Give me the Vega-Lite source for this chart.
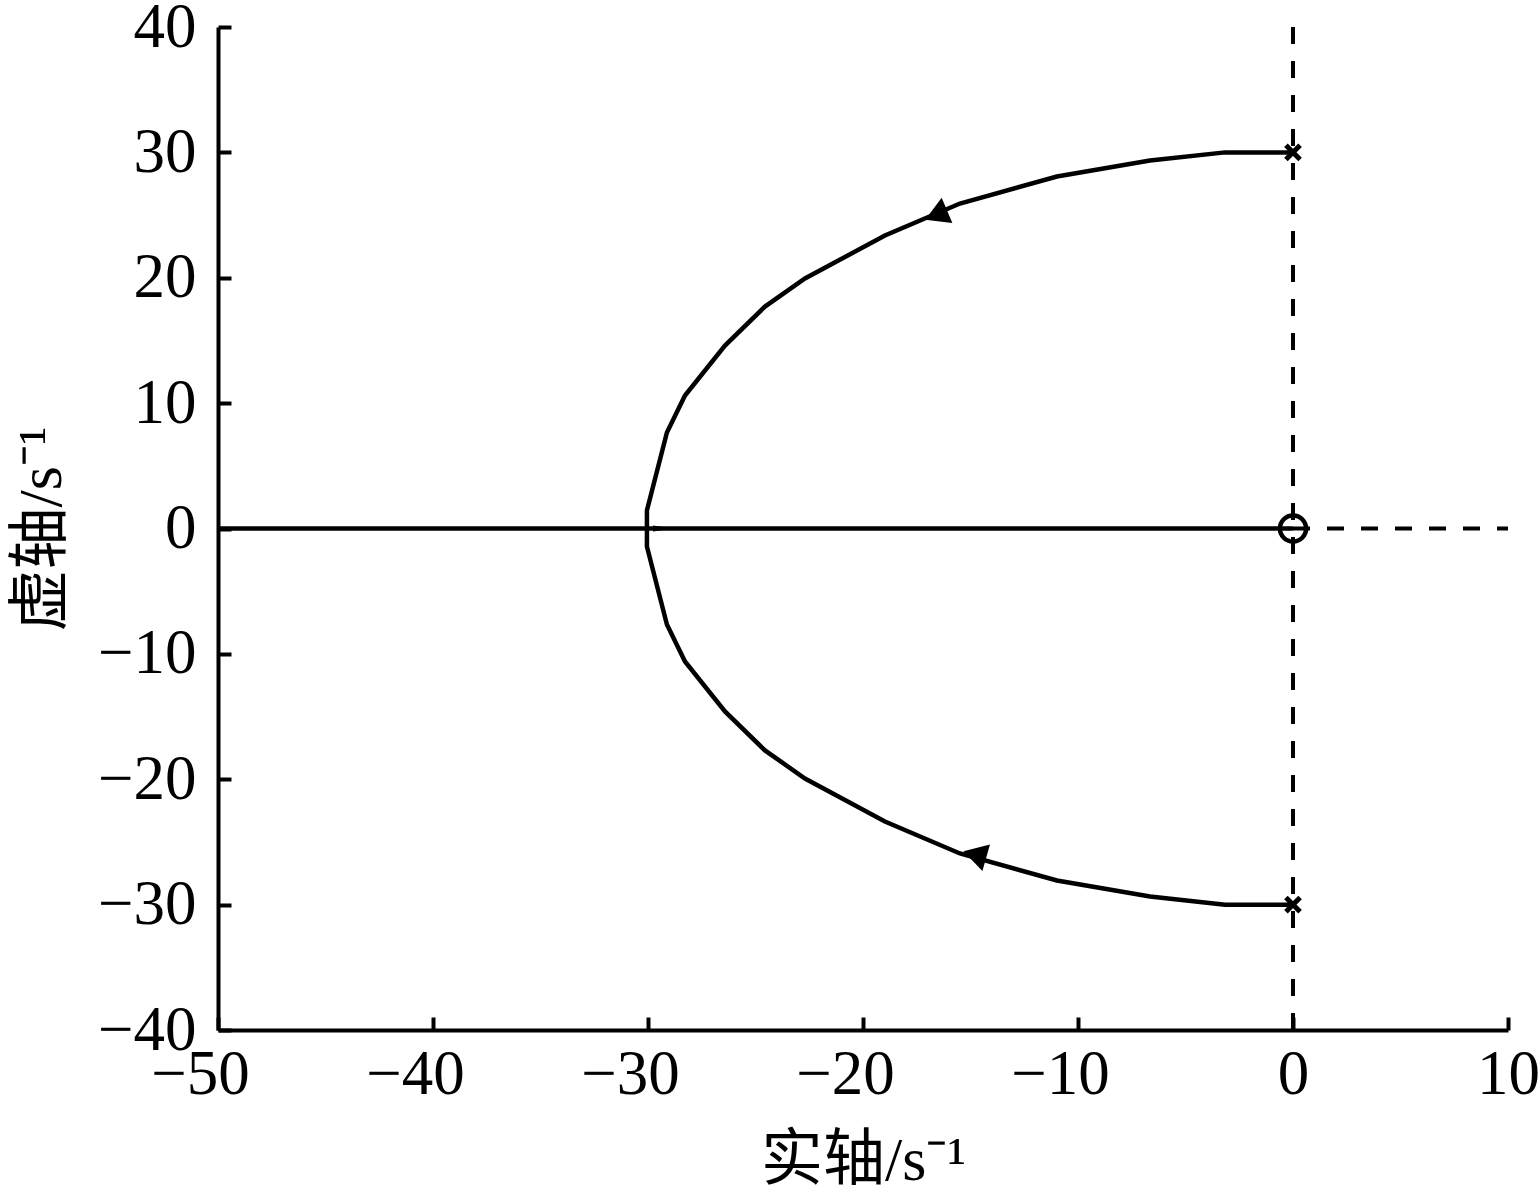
{
  "$schema": "https://vega.github.io/schema/vega-lite/v6.json",
  "width": 1290,
  "height": 1003,
  "autosize": {"type": "none"},
  "padding": {"left": 218, "top": 27, "right": 31, "bottom": 162},
  "background": "white",
  "config": {
    "view": {"stroke": null},
    "axis": {
      "domainColor": "black",
      "domainWidth": 4,
      "tickColor": "black",
      "tickWidth": 4,
      "tickSize": -13,
      "grid": false,
      "labelFont": "Liberation Serif",
      "labelFontSize": 63,
      "labelColor": "black",
      "titleFont": "Liberation Serif, Noto Sans CJK SC",
      "titleFontSize": 62,
      "titleFontWeight": "normal",
      "titleColor": "black",
      "labelFlush": false,
      "labelOverlap": false
    }
  },
  "datasets": {
    "locus": [
      {"branch": "upper", "order": 1, "re": 0, "im": 30},
      {"branch": "upper", "order": 2, "re": -3.16, "im": 30},
      {"branch": "upper", "order": 3, "re": -6.65, "im": 29.35},
      {"branch": "upper", "order": 4, "re": -10.98, "im": 28.07},
      {"branch": "upper", "order": 5, "re": -15.49, "im": 25.92},
      {"branch": "upper", "order": 6, "re": -18.98, "im": 23.37},
      {"branch": "upper", "order": 7, "re": -22.7, "im": 19.94},
      {"branch": "upper", "order": 8, "re": -24.56, "im": 17.7},
      {"branch": "upper", "order": 9, "re": -26.42, "im": 14.59},
      {"branch": "upper", "order": 10, "re": -28.28, "im": 10.61},
      {"branch": "upper", "order": 11, "re": -29.12, "im": 7.66},
      {"branch": "upper", "order": 12, "re": -30.05, "im": 1.44},
      {"branch": "upper", "order": 13, "re": -30.05, "im": 0},
      {"branch": "lower", "order": 1, "re": 0, "im": -30},
      {"branch": "lower", "order": 2, "re": -3.16, "im": -30},
      {"branch": "lower", "order": 3, "re": -6.65, "im": -29.35},
      {"branch": "lower", "order": 4, "re": -10.98, "im": -28.07},
      {"branch": "lower", "order": 5, "re": -15.49, "im": -25.92},
      {"branch": "lower", "order": 6, "re": -18.98, "im": -23.37},
      {"branch": "lower", "order": 7, "re": -22.7, "im": -19.94},
      {"branch": "lower", "order": 8, "re": -24.56, "im": -17.7},
      {"branch": "lower", "order": 9, "re": -26.42, "im": -14.59},
      {"branch": "lower", "order": 10, "re": -28.28, "im": -10.61},
      {"branch": "lower", "order": 11, "re": -29.12, "im": -7.66},
      {"branch": "lower", "order": 12, "re": -30.05, "im": -1.44},
      {"branch": "lower", "order": 13, "re": -30.05, "im": 0},
      {"branch": "real", "order": 1, "re": -50, "im": 0},
      {"branch": "real", "order": 2, "re": 0, "im": 0}
    ],
    "guides": [
      {"guide": "imag", "order": 1, "re": 0, "im": -40},
      {"guide": "imag", "order": 2, "re": 0, "im": 40},
      {"guide": "realpos", "order": 1, "re": 0, "im": 0},
      {"guide": "realpos", "order": 2, "re": 10, "im": 0}
    ],
    "poles": [
      {"re": 0, "im": 30},
      {"re": 0, "im": -30}
    ],
    "zeros": [
      {"re": 0, "im": 0}
    ],
    "arrows": [
      {"branch": "upper", "re": -16.6, "im": 25.0},
      {"branch": "lower", "re": -14.8, "im": -26.0},
      {"branch": "real", "re": -29.3, "im": 0}
    ]
  },
  "encoding": {
    "x": {
      "field": "re",
      "type": "quantitative",
      "scale": {"domain": [-50, 10], "nice": false, "zero": false},
      "axis": {
        "title": "实轴/s⁻¹",
        "values": [-50, -40, -30, -20, -10, 0, 10],
        "labelPadding": 26,
        "labelOffset": {"condition": {"test": "datum.value < 0", "value": -18}, "value": 0},
        "titlePadding": 24
      }
    },
    "y": {
      "field": "im",
      "type": "quantitative",
      "scale": {"domain": [-40, 40], "nice": false, "zero": false},
      "axis": {
        "title": "虚轴/s⁻¹",
        "values": [-40, -30, -20, -10, 0, 10, 20, 30, 40],
        "labelPadding": 35,
        "titlePadding": 24
      }
    }
  },
  "layer": [
    {
      "data": {"name": "guides"},
      "mark": {"type": "line", "color": "black", "strokeWidth": 4, "strokeDash": [17, 17]},
      "encoding": {"detail": {"field": "guide"}, "order": {"field": "order"}}
    },
    {
      "data": {"name": "locus"},
      "mark": {"type": "line", "color": "black", "strokeWidth": 4.5},
      "encoding": {"detail": {"field": "branch"}, "order": {"field": "order"}}
    },
    {
      "data": {"name": "poles"},
      "mark": {"type": "point", "shape": "M-1,-1L1,1M1,-1L-1,1", "filled": false, "stroke": "black", "strokeWidth": 5, "size": 200, "opacity": 1}
    },
    {
      "data": {"name": "zeros"},
      "mark": {"type": "point", "shape": "circle", "filled": false, "stroke": "black", "strokeWidth": 4.5, "size": 680, "opacity": 1}
    },
    {
      "data": {"name": "arrows"},
      "transform": [{"filter": "datum.branch === 'upper'"}],
      "mark": {"type": "point", "shape": "triangle-left", "filled": true, "color": "black", "size": 750, "opacity": 1, "angle": -23}
    },
    {
      "data": {"name": "arrows"},
      "transform": [{"filter": "datum.branch === 'lower'"}],
      "mark": {"type": "point", "shape": "triangle-left", "filled": true, "color": "black", "size": 750, "opacity": 1, "angle": 16}
    },
    {
      "data": {"name": "arrows"},
      "transform": [{"filter": "datum.branch === 'real'"}],
      "mark": {"type": "point", "shape": "M-1,-0.3L1,0L-1,0.3Z", "filled": true, "color": "black", "size": 400, "opacity": 1}
    }
  ]
}
